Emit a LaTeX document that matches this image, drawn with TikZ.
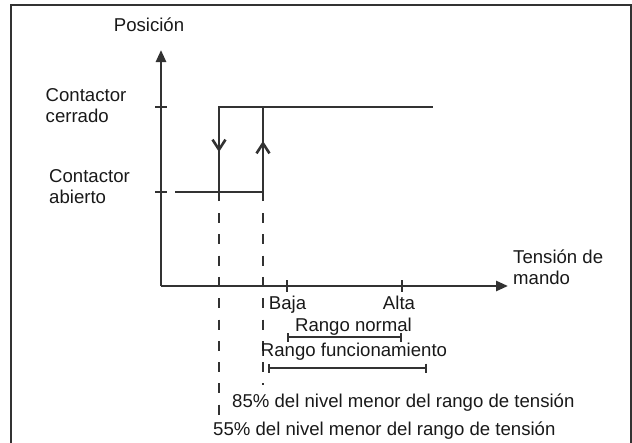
\documentclass[tikz,border=0pt]{standalone}
\usepackage{fontspec}
\setmainfont{Liberation Sans}
\usetikzlibrary{arrows.meta}
\definecolor{hys@ink}{RGB}{50,50,50}
\definecolor{hys@text}{RGB}{25,25,25}

\begin{document}
\begin{tikzpicture}[x=1pt,y=-1pt,
  axisline/.style={draw=hys@ink,line width=2.6pt,-{Triangle[length=12pt,width=10pt]}},
  loopline/.style={draw=hys@ink,line width=2.6pt},
  guide/.style={draw=hys@ink,line width=2.6pt,dash pattern=on 10pt off 11.3pt},
  tickmark/.style={draw=hys@ink,line width=2.4pt},
  spanbar/.style={draw=hys@ink,line width=2.4pt,{Bar[width=9pt]}-{Bar[width=9pt]}},
  barb/.style={-{Straight Barb[length=10pt,width=13pt]}},
  lbl/.style={inner sep=0pt,text=hys@text,font=\fontsize{18.6}{21}\selectfont},
  every node/.style={lbl}
]
\useasboundingbox (0,0) rectangle (632,442);
\draw[hys@ink,line width=1.6pt] (11,446) |- (631,4.7) -- (631,446);

% axes
\coordinate (o) at (161,286);
\coordinate (ytop) at (161,50);
\coordinate (xend) at (508,286);
\draw[axisline] (o) -- (ytop);
\draw[axisline] (o) -- (xend);
\draw[tickmark] (155,107) -- (167,107);
\draw[tickmark] (155,192) -- (167,192);
\draw[tickmark] (287,280) -- (287,292);
\draw[tickmark] (402,280) -- (402,292);

% hysteresis loop
\coordinate (lo) at (175,192);
\coordinate (off) at (219,201);
\coordinate (on) at (263,201);
\coordinate (hi) at (433,107);
\draw[loopline] (lo) -- (on |- lo);
\draw[loopline] (off) |- (hi);
\draw[loopline] (on) -- (on |- hi);
\draw[loopline,barb] (219,120) -- (219,152);
\draw[loopline,barb] (263,185) -- (263,141);
\draw[guide] (219,213) -- (219,415);
\draw[guide] (263,213) -- (263,385);

% ranges
\draw[spanbar] (287,337) -- (402,337);
\draw[spanbar] (268,368) -- (427,368);

\node[anchor=base] (pos) at (149,31.5) {Posición};
\node[align=left,anchor=base west] (cerr) at (45.5,122.7) {Contactor\\cerrado};
\node[align=left,anchor=base west] (abie) at (49,203.3) {Contactor\\abierto};
\node[align=left,anchor=base west] (tens) at (513,284.3) {Tensión de\\mando};
\node[anchor=base] (baja) at (287.5,309.3) {Baja};
\node[anchor=base] (alta) at (399,309.3) {Alta};
\node[anchor=base] (rnorm) at (353.5,331) {Rango normal};
\node[anchor=base] (rfunc) at (354,356.7) {Rango funcionamiento};
\node[anchor=base west] (p85) at (232,407) {85\% del nivel menor del rango de tensión};
\node[anchor=base west] (p55) at (213,435) {55\% del nivel menor del rango de tensión};
\end{tikzpicture}
\end{document}
